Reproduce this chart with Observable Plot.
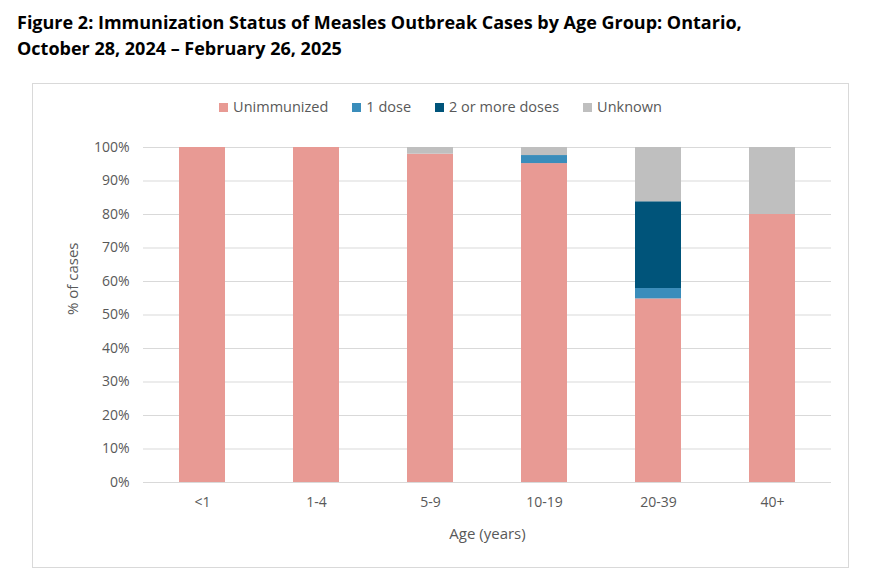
<!DOCTYPE html>
<html>
<head>
<meta charset="utf-8">
<script src="https://cdn.jsdelivr.net/npm/d3@7"></script>
<script src="https://cdn.jsdelivr.net/npm/@observablehq/plot@0.6"></script>
<style>
  html, body { margin: 0; padding: 0; background: #fff; }
  body { width: 870px; height: 574px; position: relative; overflow: hidden; font-family: "Open Sans", sans-serif; }
  #title { position: absolute; left: 17px; top: 9px; font-family: "Open Sans", sans-serif; font-weight: bold; font-size: 18px; letter-spacing: 0px; line-height: 26px; color: #000; }
  #box { position: absolute; left: 32px; top: 83px; width: 815px; height: 483px; border: 1px solid #d9d9d9; }
  #chart { position: absolute; left: 0; top: 0; }
  #legend { position: absolute; left: 0; width: 100%; top: 13px; text-align: center; font-size: 14.5px; color: #595959; white-space: nowrap; }
  #legend span.item { margin: 0 12px; }
  #legend span.sw { display: inline-block; width: 9px; height: 9px; margin-right: 5px; vertical-align: 0px; }
</style>
</head>
<body>
<div id="title">Figure 2: Immunization Status of Measles Outbreak Cases by Age Group: Ontario,<br>October 28, 2024 – February 26, 2025</div>
<div id="box">
  <div id="legend"></div>
  <div id="chart"></div>
</div>
<script>
const ages = ["<1", "1-4", "5-9", "10-19", "20-39", "40+"];
const statuses = ["Unimmunized", "1 dose", "2 or more doses", "Unknown"];
const colors = ["#e89a94", "#3a8dbb", "#00547a", "#bfbfbf"];
const unimmunized = [100, 100, 98, 95.2, 54.8, 80];
const oneDose = [0, 0, 0, 2.4, 3.1, 0];
const twoPlusDoses = [0, 0, 0, 0, 25.9, 0];
const unknown = [0, 0, 2, 2.4, 16.2, 20];
const yTicks = [0, 10, 20, 30, 40, 50, 60, 70, 80, 90, 100];

const series = [unimmunized, oneDose, twoPlusDoses, unknown];
const data = [];
ages.forEach((a, i) => {
  statuses.forEach((s, j) => data.push({age: a, status: s, value: series[j][i]}));
});

// Legend
const legend = document.getElementById("legend");
statuses.forEach((s, j) => {
  const item = document.createElement("span");
  item.className = "item";
  const sw = document.createElement("span");
  sw.className = "sw";
  sw.style.background = colors[j];
  item.appendChild(sw);
  item.appendChild(document.createTextNode(s));
  legend.appendChild(item);
});

const chart = Plot.plot({
  width: 815,
  height: 483,
  marginLeft: 110,
  marginRight: 17,
  marginTop: 63,
  marginBottom: 85,
  style: {fontFamily: "Open Sans, sans-serif", fontSize: "14px", color: "#595959", background: "transparent"},
  x: {domain: ages, paddingInner: 0.6, paddingOuter: 0.3, label: null},
  y: {domain: [0, 100], label: null},
  color: {domain: statuses, range: colors},
  marks: [
    Plot.gridY(yTicks, {stroke: "#d9d9d9", strokeOpacity: 1, strokeWidth: 1}),
    Plot.barY(data, {x: "age", y: "value", fill: "status", order: statuses}),
    Plot.axisX({tickSize: 0, tickPadding: 15, label: null, fontSize: 14}),
    Plot.axisY({ticks: yTicks, tickFormat: d => d + "%", tickSize: 0, tickPadding: 14, label: null, fontSize: 14}),
    Plot.text(["Age (years)"], {frameAnchor: "bottom", lineAnchor: "middle", dy: 52, fontSize: 15, fill: "#595959"}),
    Plot.text(["% of cases"], {frameAnchor: "left", dx: -70, rotate: -90, fontSize: 15, fill: "#595959"})
  ]
});
document.getElementById("chart").appendChild(chart);
</script>
</body>
</html>
